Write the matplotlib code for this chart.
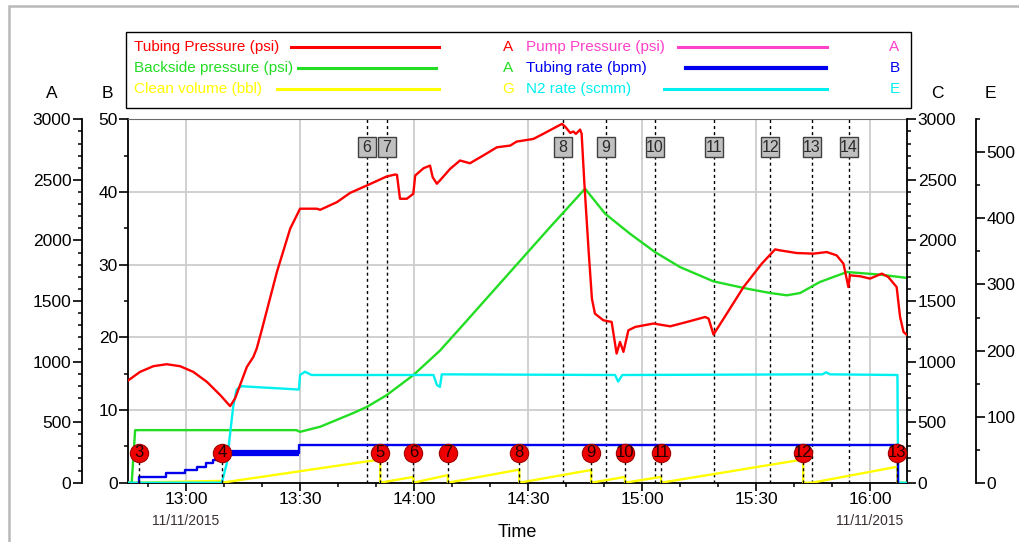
import numpy as np
import matplotlib.pyplot as plt
import matplotlib.dates as mdates
import matplotlib.transforms as mtransforms
from matplotlib import font_manager
from matplotlib.lines import Line2D
from matplotlib.patches import Rectangle
from matplotlib.ticker import MultipleLocator

# ---- data: times are minutes after 13:00 on 11/11/2015 ----
red_t = [-15.2, -12.1, -8.6, -5.1, -1.6, 1.9, 5.5, 9.0, 11.6, 12.9,
         14.2, 16.0, 17.7, 18.6, 19.9, 23.9, 27.4, 30.0, 34.4, 35.3,
         39.7, 43.2, 47.6, 52.8, 55.0, 55.5, 56.3, 58.1, 59.8, 60.3,
         62.5, 64.2, 64.9, 66.0, 66.8, 69.5, 72.1, 74.7, 78.2, 81.8,
         85.3, 87.0, 91.4, 94.0, 98.9, 99.7, 101.1, 101.9, 102.6, 103.7,
         104.1, 104.8, 105.9, 106.8, 107.6, 109.8, 112.0, 113.3, 114.2, 115.1,
         116.4, 118.2, 123.0, 127.4, 131.8, 136.6, 137.5, 138.8, 142.3, 146.7,
         151.5, 155.0, 156.3, 160.7, 165.1, 168.6, 171.2, 173.0, 174.3, 174.7,
         177.4, 180.0, 183.1, 184.8, 187.0, 187.9, 188.8, 189.8]
red_psi = [845, 915, 962, 978, 962, 915, 832, 723, 632, 696,
           805, 956, 1038, 1108, 1258, 1739, 2097, 2262, 2262, 2253,
           2316, 2393, 2454, 2528, 2544, 2542, 2344, 2344, 2385, 2536,
           2596, 2618, 2522, 2468, 2495, 2591, 2660, 2637, 2701, 2769,
           2783, 2816, 2838, 2880, 2962, 2942, 2888, 2899, 2880, 2915,
           2880, 2481, 1932, 1520, 1396, 1341, 1327, 1066, 1162, 1080,
           1258, 1286, 1314, 1291, 1327, 1368, 1355, 1223, 1396, 1615,
           1808, 1926, 1918, 1896, 1891, 1904, 1877, 1808, 1615, 1712,
           1704, 1685, 1726, 1698, 1615, 1368, 1245, 1217]

green_t = [-15.2, -14.3, -13.4, 29.0, 30.0, 35.3, 44.0, 47.6, 52.8, 59.8,
           66.8, 72.1, 78.2, 87.0, 95.8, 105.0, 110.3, 116.8, 123.4, 130.0,
           138.8, 147.6, 153.7, 158.1, 161.6, 166.8, 173.9, 182.6, 189.8]
green_psi = [0, 0, 434, 434, 420, 462, 575, 626, 723, 888,
             1090, 1275, 1490, 1800, 2110, 2427, 2220, 2056, 1904, 1780,
             1662, 1602, 1566, 1547, 1566, 1657, 1739, 1718, 1690]

cyan_t = [-15.2, 9.4, 10.7, 12.4, 13.3, 14.5, 29.7, 30.0, 31.3, 33.0,
          65.1, 66.0, 66.8, 67.3, 112.9, 113.7, 114.8, 167.5, 168.4, 169.5,
          187.2, 187.4, 189.8]
cyan_scmm = [0, 0, 29, 115, 141, 146, 141, 163, 168, 163,
             163, 148, 145, 164, 163, 153, 163, 164, 167, 164,
             163, 0, 0]

blue_t = [-12.3, -12.3, -5.3, -0.3, 2.8, 5.3, 7.2, 9.4, 10.3, 29.8, 187.2, 187.3]
blue_bpm = [0, 0.8, 1.3, 1.7, 2.2, 2.7, 3.1, 3.6, 4.1, 5.2, 5.2, 0]
blue_heavy_t = [10.3, 29.8]
blue_heavy_bpm = [4.1, 4.1]

yellow_t = [-15.2, 9.4, 9.4, 51.1, 51.1, 59.8, 59.8, 68.9, 68.9, 87.7,
            87.7, 106.6, 106.6, 115.5, 115.5, 125.0, 125.0, 162.4, 162.4, 164.7,
            187.2, 187.2, 189.8]
yellow_bbl = [0, 0.5, 0, 6.4, 0, 1.6, 0, 2.1, 0, 3.6,
              0, 3.5, 0, 1.6, 0, 1.6, 0, 6.4, 0, 0,
              4.4, 0, 0]

# numbered stage markers
circle_ids = [3, 4, 5, 6, 7, 8, 9, 10, 11, 12, 13]
circle_t = [-12.4, 9.4, 51.1, 59.8, 68.9, 87.7, 106.6, 115.5, 125.0, 162.4, 187.2]
box_ids = [6, 7, 8, 9, 10, 11, 12, 13, 14]
box_t = [47.5, 52.8, 99.2, 110.5, 123.4, 139.0, 153.7, 164.7, 174.5]

t_start, t_end = -15.2, 189.8

RED, GREEN, YELLOW = '#ff0000', '#22dd22', '#ffff00'
MAGENTA, BLUE, CYAN = '#ff40c8', '#0000ee', '#00f0f0'

legend_rows = [
    ('Tubing Pressure (psi)', RED, 'A', 47, 291, 439, 2.2),
    ('Backside pressure (psi)', GREEN, 'A', 68, 298, 436, 2.2),
    ('Clean volume (bbl)', YELLOW, 'G', 89, 277, 439, 2.2),
    ('Pump Pressure (psi)', MAGENTA, 'A', 47, 678, 827, 2.2),
    ('Tubing rate (bpm)', BLUE, 'B', 68, 686, 826, 3.0),
    ('N2 rate (scmm)', CYAN, 'E', 89, 664, 827, 2.2),
]

t0 = np.datetime64('2015-11-11T13:00:00')


def when(minutes):
    secs = np.round(np.asarray(minutes, dtype=float) * 60).astype('int64')
    return t0 + secs.astype('timedelta64[s]')


installed = {f.name for f in font_manager.fontManager.ttflist}
NARROW = 'Liberation Sans Narrow' if 'Liberation Sans Narrow' in installed else 'Liberation Sans'
TICK_SIZE = 15 if NARROW == 'Liberation Sans Narrow' else 12.5
plt.rcParams['font.family'] = NARROW

W, H = 1020, 542
fig = plt.figure(figsize=(W / 100, H / 100), dpi=100)
L, R, T, B = 128.3, 907.3, 119.3, 482.7
ax = fig.add_axes([L / W, 1 - B / H, (R - L) / W, (B - T) / H])


def fx(x):
    return x / W


def fy(y):
    return 1 - y / H


def style_y(a, major, minor):
    a.yaxis.set_major_locator(MultipleLocator(major))
    a.yaxis.set_minor_locator(MultipleLocator(minor))
    a.tick_params(axis='y', which='major', direction='out', length=6.5, width=1.2,
                  labelsize=TICK_SIZE, pad=1)
    a.tick_params(axis='y', which='minor', direction='out', length=3, width=1.1)


def only_spine(a, name):
    for s in a.spines:
        a.spines[s].set_visible(s == name)
    if name:
        a.spines[name].set_linewidth(1.3)


# host axes: time axis + B scale (bpm)
ax.set_xlim(when(t_start), when(t_end))
ax.set_ylim(0, 50)
style_y(ax, 10, 5)
ax.xaxis.set_major_locator(mdates.MinuteLocator(byminute=[0, 30]))
ax.xaxis.set_minor_locator(mdates.MinuteLocator(byminute=range(0, 60, 10)))
ax.xaxis.set_major_formatter(mdates.DateFormatter('%H:%M'))
ax.tick_params(axis='x', which='major', direction='out', length=6, width=1.2,
               labelsize=TICK_SIZE, pad=1)
ax.tick_params(axis='x', which='minor', direction='out', length=3, width=1.1)
ax.grid(True, which='major', color='#cdcdcd', lw=1.3)
ax.set_axisbelow(True)
ax.spines['right'].set_visible(False)
ax.spines['top'].set_color('#6a6a6a')
ax.spines['left'].set_linewidth(1.3)
ax.spines['bottom'].set_linewidth(1.3)
ax.set_xlabel('Time', fontsize=13, labelpad=12)

host_blend = mtransforms.blended_transform_factory(ax.transData, ax.transAxes)
for d in (0, 180):
    ax.text(when(d), -0.105, '11/11/2015', transform=host_blend, ha='center',
            va='center', fontsize=10, color='#3a3030')

# dotted stage lines with grey numbered tags
tag_w = 18 / 3.8 / 1440
for n, m in zip(box_ids, box_t):
    x = mdates.date2num(when(m))
    ax.axvline(x, color='black', lw=1.0, ls=(0, (2.2, 2.2)), zorder=1.5)
    ax.add_patch(Rectangle((x - tag_w / 2, 0.895), tag_w, 0.055, transform=host_blend,
                           fc='#c0c0c0', ec='#404040', lw=1.0, zorder=3))
    ax.text(x, 0.9225, str(n), transform=host_blend, ha='center', va='center',
            fontsize=11.5, color='#2a2a2a', zorder=4)

# clean volume (G scale, not shown)
axG = ax.twinx()
axG.set_ylim(0, 100)
axG.yaxis.set_visible(False)
only_spine(axG, None)
axG.plot(when(yellow_t), yellow_bbl, color=YELLOW, lw=1.7)

# C scale on the right, carries backside pressure
axC = ax.twinx()
axC.set_ylim(0, 3000)
style_y(axC, 500, 100)
only_spine(axC, 'right')
axC.plot(when(green_t), green_psi, color=GREEN, lw=1.7)

# E scale, outer right
axE = ax.twinx()
axE.set_ylim(0, 550)
style_y(axE, 100, 50)
only_spine(axE, 'right')
axE.spines['right'].set_position(('outward', 49.5))
axE.plot(when(cyan_t), cyan_scmm, color=CYAN, lw=1.7)

# tubing rate on the B scale
axBl = ax.twinx()
axBl.set_ylim(0, 50)
axBl.yaxis.set_visible(False)
only_spine(axBl, None)
axBl.step(when(blue_t), blue_bpm, where='post', color=BLUE, lw=1.7)
axBl.plot(when(blue_heavy_t), blue_heavy_bpm, color=BLUE, lw=4.5, solid_capstyle='butt')

# A scale, outer left, tubing pressure
axA = ax.twinx()
axA.set_ylim(0, 3000)
axA.yaxis.tick_left()
style_y(axA, 500, 100)
only_spine(axA, 'left')
axA.spines['left'].set_position(('outward', 33.5))
axA.plot(when(red_t), red_psi, color=RED, lw=1.7)

# red stage circles on top
top_blend = mtransforms.blended_transform_factory(axA.transData, axA.transAxes)
for n, m in zip(circle_ids, circle_t):
    x = mdates.date2num(when(m))
    axA.plot([x, x], [0, 0.058], transform=top_blend, color='black', lw=1.0,
             ls=(0, (2.2, 2.2)), clip_on=False)
    axA.plot([x], [0.0824], 'o', transform=top_blend, ms=13.2, mfc='#ee0000',
             mec='#a00000', mew=0.8, clip_on=False)
    axA.text(x, 0.0824, str(n), transform=top_blend, ha='center', va='center',
             fontsize=12, color='#220000')

# axis letters
for letter, x in (('A', 51.7), ('B', 107.5), ('C', 937.5), ('E', 990)):
    fig.text(fx(x), fy(93.3), letter, ha='center', va='center', fontsize=12.5)

# legend panel
fig.add_artist(Rectangle((fx(126), fy(108.3)), (910.7 - 126) / W, (108.3 - 31.7) / H,
                         transform=fig.transFigure, fill=False, ec='black', lw=1.0))
for label, color, letter, y, x0, x1, lw in legend_rows:
    text_x = 134 if x0 < 500 else 526
    letter_x = 508.5 if x0 < 500 else 894.5
    fig.text(fx(text_x), fy(y), label, color=color, ha='left', va='center',
             fontsize=11, family='Liberation Sans')
    fig.add_artist(Line2D([fx(x0), fx(x1)], [fy(y), fy(y)], transform=fig.transFigure,
                          color=color, lw=lw))
    fig.text(fx(letter_x), fy(y), letter, color=color, ha='center', va='center',
             fontsize=11, family='Liberation Sans')

# outer frame edge
fig.add_artist(Rectangle((fx(8.7), -0.1), 1.2, fy(6.2) + 0.1, transform=fig.transFigure,
                         fill=False, ec='#b8b8b8', lw=1.8))

fig.savefig('out.png', dpi=100)
